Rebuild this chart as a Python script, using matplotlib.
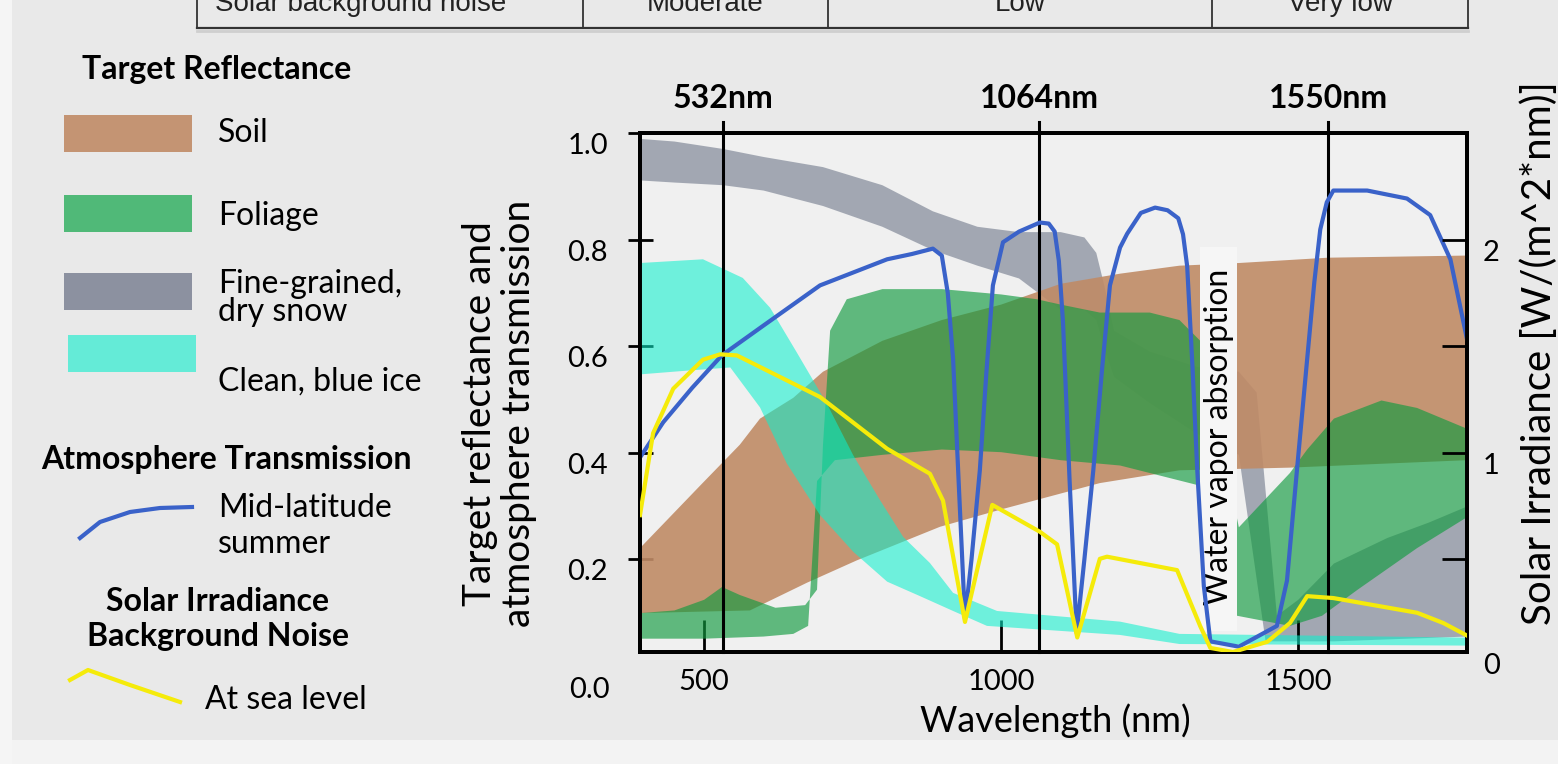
import numpy as np
import matplotlib.pyplot as plt
from matplotlib.patches import Rectangle
from matplotlib.transforms import blended_transform_factory

plt.rcParams['font.family'] = ['Lato', 'DejaVu Sans']

# atmosphere transmission, mid-latitude summer (0..1)
trans_nm = [392, 431, 480, 530, 599, 695, 808, 850, 885, 900, 910, 919, 929, 939, 950, 964,
            975, 986, 1003, 1030, 1065, 1080, 1090, 1097, 1104, 1115, 1127, 1140, 1155, 1170,
            1183, 1200, 1212, 1235, 1259, 1280, 1298, 1306, 1313, 1322, 1330, 1341, 1352,
            1400, 1464, 1481, 1498, 1515, 1527, 1537, 1548, 1559, 1616, 1683, 1722, 1756, 1784]
trans_val = [0.391, 0.457, 0.522, 0.583, 0.638, 0.714, 0.763, 0.773, 0.783, 0.770, 0.70,
             0.576, 0.33, 0.088, 0.20, 0.367, 0.55, 0.714, 0.795, 0.815, 0.832, 0.830, 0.815,
             0.76, 0.645, 0.35, 0.062, 0.20, 0.367, 0.56, 0.714, 0.785, 0.811, 0.85, 0.860,
             0.855, 0.840, 0.81, 0.750, 0.56, 0.367, 0.15, 0.046, 0.036, 0.075, 0.160, 0.37,
             0.576, 0.72, 0.819, 0.87, 0.892, 0.892, 0.877, 0.846, 0.763, 0.613]

# solar irradiance at sea level, W/(m^2*nm)
irr_nm = [392, 414, 448, 498, 527, 555, 695, 808, 880, 902, 939, 985, 1065, 1094,
          1128, 1166, 1178, 1296, 1335, 1352, 1390, 1448, 1486, 1515, 1559, 1700, 1744, 1784]
irr_val = [0.708, 1.092, 1.301, 1.437, 1.462, 1.457, 1.262, 1.019, 0.902, 0.776, 0.207, 0.756,
           0.630, 0.571, 0.134, 0.503, 0.513, 0.450, 0.187, 0.085, 0.066, 0.114, 0.202, 0.328,
           0.319, 0.250, 0.202, 0.143]

# reflectance envelopes: upper and lower edge of each band
soil_up_nm = [392, 430, 493, 560, 594, 650, 700, 800, 900, 1000, 1100, 1200, 1300, 1400, 1550, 1784]
soil_up = [0.221, 0.265, 0.338, 0.415, 0.464, 0.503, 0.552, 0.610, 0.649, 0.678, 0.717, 0.736,
           0.751, 0.756, 0.766, 0.770]
soil_lo_nm = [392, 577, 673, 757, 897, 998, 1166, 1300, 1486, 1784]
soil_lo = [0.099, 0.104, 0.156, 0.198, 0.261, 0.293, 0.343, 0.367, 0.372, 0.386]

leaf_up_nm = [392, 450, 500, 530, 560, 620, 670, 690, 700, 712, 740, 800, 900, 1000, 1060,
              1100, 1166, 1250, 1300, 1335, 1400, 1486, 1515, 1560, 1640, 1700, 1784]
leaf_up = [0.099, 0.104, 0.124, 0.148, 0.133, 0.109, 0.114, 0.143, 0.415, 0.629, 0.688, 0.707,
           0.707, 0.697, 0.688, 0.678, 0.663, 0.663, 0.649, 0.610, 0.260, 0.362, 0.406, 0.464,
           0.498, 0.484, 0.445]
leaf_lo_nm = [392, 500, 600, 650, 675, 690, 720, 800, 900, 1000, 1100, 1200, 1335, 1397,
              1486, 1540, 1600, 1700, 1784]
leaf_lo = [0.051, 0.051, 0.055, 0.060, 0.075, 0.347, 0.386, 0.396, 0.406, 0.401, 0.386, 0.376,
           0.338, 0.094, 0.075, 0.094, 0.143, 0.221, 0.279]

snow_up_nm = [392, 450, 532, 600, 700, 800, 885, 960, 1030, 1100, 1140, 1160, 1175, 1190, 1250,
              1330, 1400, 1430, 1464, 1500, 1560, 1650, 1720, 1784]
snow_up = [0.989, 0.984, 0.970, 0.955, 0.936, 0.902, 0.853, 0.824, 0.814, 0.814, 0.804, 0.775,
           0.707, 0.629, 0.590, 0.561, 0.552, 0.513, 0.094, 0.124, 0.192, 0.240, 0.269, 0.299]
snow_lo_nm = [392, 450, 532, 600, 700, 800, 885, 960, 1030, 1100, 1140, 1160, 1175, 1190, 1250,
              1330, 1400, 1445, 1560, 1784]
snow_lo = [0.911, 0.907, 0.902, 0.892, 0.863, 0.824, 0.780, 0.751, 0.727, 0.668, 0.668, 0.649,
           0.590, 0.542, 0.493, 0.435, 0.396, 0.046, 0.046, 0.055]

ice_up_nm = [392, 498, 565, 611, 656, 707, 751, 796, 835, 880, 919, 993, 1200, 1300, 1784]
ice_up = [0.756, 0.763, 0.728, 0.672, 0.588, 0.491, 0.395, 0.311, 0.242, 0.193, 0.137, 0.103,
          0.083, 0.060, 0.053]
ice_lo_nm = [392, 471, 544, 594, 639, 695, 751, 808, 863, 919, 976, 1200, 1300, 1784]
ice_lo = [0.547, 0.554, 0.560, 0.485, 0.380, 0.283, 0.214, 0.158, 0.131, 0.103, 0.075, 0.058,
          0.041, 0.038]

laser_nm = [532, 1064, 1550]
laser_labels = ['532nm', '1064nm', '1550nm']
x_ticks = [500, 1000, 1500]
left_ticks = [0.0, 0.2, 0.4, 0.6, 0.8, 1.0]
right_ticks = [0, 1, 2]
right_minor = [0.5, 1.5]
water_band = (1335, 1397)

table_cells = ['Solar background noise', 'Moderate', 'Low', 'Very low']
table_edges = [197, 583, 828, 1212, 1468]

soil_c = '#c08b66'
leaf_c = '#119b3f'
snow_c = '#959ba8'
ice_c = '#0cf0cd'
blue_c = '#3a62c9'
yellow_c = '#f5eb0a'
bg = '#f0f0f0'


def band(ax, up_nm, up, lo_nm, lo, color, alpha, z):
    xs = np.r_[up_nm, lo_nm[::-1]]
    ys = np.r_[up, lo[::-1]]
    ax.fill(xs, ys, color=color, alpha=alpha, lw=0, zorder=z)


fig = plt.figure(figsize=(15.58, 7.64), dpi=100)
fig.patch.set_facecolor('#e9e9e9')

# overlay in pixel units for the legend and the table strip
ov = fig.add_axes([0, 0, 1, 1], zorder=0)
ov.set_xlim(0, 1558)
ov.set_ylim(764, 0)
ov.axis('off')
ov.add_patch(Rectangle((0, 740), 1558, 24, color='#f3f3f3', lw=0))
ov.add_patch(Rectangle((0, 0), 12, 764, color='#f5f5f5', lw=0))

for x in table_edges:
    ov.plot([x, x], [0, 28], color='#333333', lw=1.3)
ov.plot([table_edges[0], table_edges[-1]], [28, 28], color='#333333', lw=1.6)
ov.plot([table_edges[0], table_edges[-1]], [31, 31], color='#cfcfcf', lw=2)
narrow = ['Liberation Sans', 'DejaVu Sans']
ov.text(table_edges[0] + 18, 11, table_cells[0], ha='left', va='baseline',
        fontsize=20, family=narrow, color='#222222')
for i, txt in enumerate(table_cells[1:], start=1):
    cx = (table_edges[i] + table_edges[i + 1]) / 2
    ov.text(cx, 11, txt, ha='center', va='baseline', fontsize=20, family=narrow, color='#222222')

# legend
ov.text(217, 70, 'Target Reflectance', ha='center', va='center', fontsize=23, fontweight='bold')
swatches = [(64, 115, soil_c, 0.9, 'Soil', 133),
            (64, 195, '#50b978', 1.0, 'Foliage', 216),
            (64, 273, '#8c91a0', 1.0, 'Fine-grained,\ndry snow', 298),
            (68, 335, '#64ebd7', 1.0, 'Clean, blue ice', 382)]
for x0, y0, c, a, name, ty in swatches:
    ov.add_patch(Rectangle((x0, y0), 128, 37, color=c, alpha=a, lw=0))
    ov.text(218, ty, name, ha='left', va='center', fontsize=23, linespacing=0.95)
ov.text(226, 460, 'Atmosphere Transmission', ha='center', va='center', fontsize=23, fontweight='bold')
ov.plot([80, 100, 130, 160, 192], [538, 522, 512, 508, 507], color=blue_c, lw=3)
ov.text(218, 526, 'Mid-latitude\nsummer', ha='left', va='center', fontsize=23, linespacing=1.25)
ov.text(218, 619, 'Solar Irradiance\nBackground Noise', ha='center', va='center', fontsize=23,
        fontweight='bold', linespacing=1.25)
ov.plot([70, 88, 130, 180], [680, 670, 685, 702], color=yellow_c, lw=3)
ov.text(205, 700, 'At sea level', ha='left', va='center', fontsize=23)

# main chart
ax = fig.add_axes([640 / 1558, 1 - 652 / 764, 827 / 1558, 519 / 764], zorder=1)
ax.set_facecolor(bg)
ax.set_xlim(392, 1784)
ax.set_ylim(0.026, 1.0)

band(ax, snow_up_nm, snow_up, snow_lo_nm, snow_lo, snow_c, 0.85, 1)
band(ax, soil_up_nm, soil_up, soil_lo_nm, soil_lo, soil_c, 0.9, 2)
band(ax, leaf_up_nm, leaf_up, leaf_lo_nm, leaf_lo, leaf_c, 0.65, 3)
band(ax, ice_up_nm, ice_up, ice_lo_nm, ice_lo, ice_c, 0.57, 4)

ax.axvspan(water_band[0], water_band[1], ymin=0.04, ymax=0.78, color='#f6f6f6', lw=0, zorder=5)
ax.text(sum(water_band) / 2, 0.43, 'Water vapor absorption', rotation=90,
        ha='center', va='center', fontsize=23, zorder=6)

trans = blended_transform_factory(ax.transData, ax.transAxes)
for nm, lab in zip(laser_nm, laser_labels):
    ax.axvline(nm, ymin=0, ymax=1.022, color='black', lw=2.2, clip_on=False, zorder=7)
    ax.text(nm, 1.067, lab, transform=trans, ha='center', va='center',
            fontsize=23, fontweight='bold')

ax.plot(trans_nm, trans_val, color=blue_c, lw=3, zorder=8)

# the zero ticks fall just below the frame, so their labels are placed by hand
ax.set_xticks(x_ticks)
ax.set_yticks(left_ticks[1:])
ax.set_yticklabels([f'{v:.1f}' for v in left_ticks[1:]])
ax.tick_params(axis='x', direction='in', length=23, width=2, labelsize=21, pad=12)
ax.tick_params(axis='y', direction='inout', length=18, width=2, labelsize=21, pad=14)
for lab in ax.get_yticklabels():
    lab.set_va('top')
ytr = blended_transform_factory(ax.transAxes, ax.transData)
ax.text(-0.036, left_ticks[0] - 0.045, f'{left_ticks[0]:.1f}', transform=ytr,
        ha='right', va='center', fontsize=21, clip_on=False)
ax.set_xlabel('Wavelength (nm)', fontsize=26)
ax.xaxis.set_label_coords(0.502, -0.098)
ax.set_ylabel('Target reflectance and\natmosphere transmission', fontsize=28, linespacing=1.1)
ax.yaxis.set_label_coords(-0.1245, 0.46)

ax2 = ax.twinx()
ax2.set_ylim(0.066, 2.5)
ax2.plot(irr_nm, irr_val, color=yellow_c, lw=3, zorder=9)
ax2.set_yticks(right_ticks[1:])
ax2.set_yticks(right_minor, minor=True)
ax2.tick_params(axis='y', which='both', direction='in', length=18, width=2, labelsize=21, pad=11.5)
for lab in ax2.get_yticklabels():
    lab.set_va('top')
ax2.text(1.02, right_ticks[0], str(right_ticks[0]),
         transform=blended_transform_factory(ax2.transAxes, ax2.transData),
         ha='left', va='center', fontsize=21, clip_on=False)
ax2.set_ylabel('Solar Irradiance [W/(m^2*nm)]', fontsize=29)
ax2.yaxis.set_label_coords(1.064, 0.576)

for a in (ax, ax2):
    for sp in a.spines.values():
        sp.set_linewidth(2.8)

fig.savefig('out.png', dpi=100, facecolor=fig.get_facecolor())
